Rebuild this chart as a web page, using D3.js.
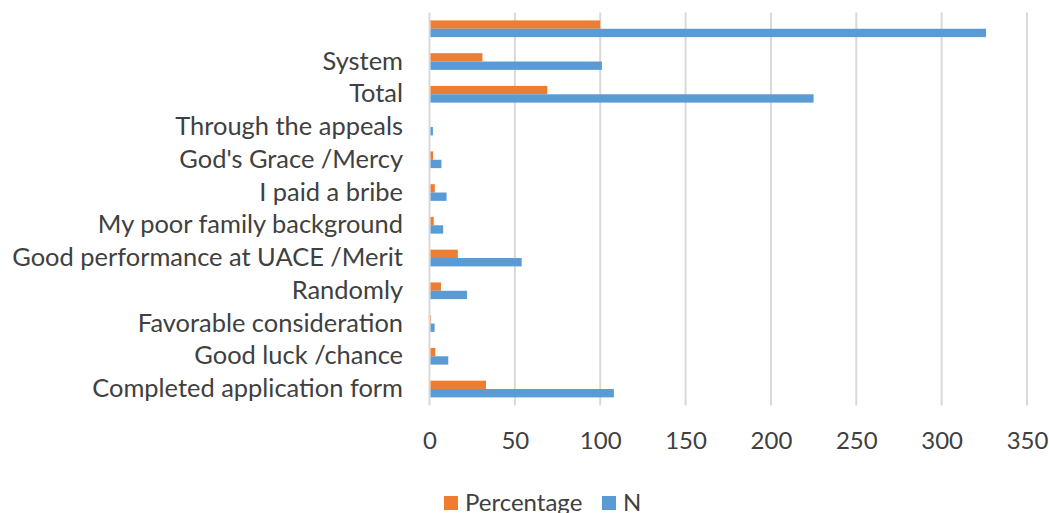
<!DOCTYPE html>
<html lang="en"><head>
<meta charset="UTF-8">
<script src="https://d3js.org/d3.v7.min.js"></script>
<title>Admission reasons</title>
<style>
  body { margin: 0; background: #fff; }
  text { font-family: Lato, "Open Sans", sans-serif; fill: #404040; }
</style>
</head>
<body>
<svg id="vis" width="1049" height="513"></svg>
<script>
// categories listed top to bottom
var categories = ["", "System", "Total", "Through the appeals", "God's Grace /Mercy",
  "I paid a bribe", "My poor family background", "Good performance at UACE /Merit",
  "Randomly", "Favorable consideration", "Good luck /chance", "Completed application form"];
var seriesNames = ["Percentage", "N"];
var percentage = [100, 31.0, 69.0, 0.6, 2.1, 3.1, 2.5, 16.6, 6.7, 0.9, 3.4, 33.1];
var nValues = [326, 101, 225, 2, 7, 10, 8, 54, 22, 3, 11, 108];
var xTicks = [0, 50, 100, 150, 200, 250, 300, 350];
var colors = ["#ED7D31", "#5B9BD5"];

var svg = d3.select("#vis");
var plotLeft = 429.5, plotRight = 1027, plotTop = 12.4, plotBottom = 405.4;

var x = d3.scaleLinear().domain([0, 350]).range([plotLeft, plotRight]);
var y = d3.scaleBand().domain(categories).range([plotTop, plotBottom])
  .paddingInner(0.49).paddingOuter(0.245);
var ySub = d3.scaleBand().domain(seriesNames).range([0, y.bandwidth()]);

// gridlines
svg.append("g").selectAll("line").data(xTicks).join("line")
  .attr("x1", function(d){ return x(d); }).attr("x2", function(d){ return x(d); })
  .attr("y1", plotTop).attr("y2", plotBottom)
  .attr("stroke", "#d9d9d9").attr("stroke-width", 2);

// bars
var rows = categories.map(function(c, i){ return {cat: c, vals: [percentage[i], nValues[i]]}; });
var gBars = svg.append("g");
rows.forEach(function(r){
  r.vals.forEach(function(v, j){
    gBars.append("rect")
      .attr("x", x(0) + 1)
      .attr("y", y(r.cat) + ySub(seriesNames[j]))
      .attr("width", Math.max(0, x(v) - x(0) - 1))
      .attr("height", ySub.bandwidth())
      .attr("fill", colors[j]);
  });
});

// x axis labels
var xAxis = d3.axisBottom(x).tickValues(xTicks).tickSize(0).tickPadding(0);
var gx = svg.append("g").attr("transform", "translate(0," + 441 + ")").call(xAxis);
gx.select(".domain").remove();
gx.selectAll("text").attr("font-size", 24).attr("dy", "0.35em")
  .style("font-family", "Lato, 'Open Sans', sans-serif").attr("fill", "#404040");

// category labels
var yAxis = d3.axisLeft(y).tickSize(0).tickPadding(0);
var gy = svg.append("g").attr("transform", "translate(403,0)").call(yAxis);
gy.select(".domain").remove();
gy.selectAll("text").attr("font-size", 23).attr("fill", "#404040")
  .style("font-family", "Lato, 'Open Sans', sans-serif");

// fit the longest label to the width seen in the chart
var longest = gy.selectAll("text").filter(function(d){ return d == "Good performance at UACE /Merit"; }).node();
var w = longest.getComputedTextLength();
var fs = 23 * 391 / w;
gy.selectAll("text").attr("font-size", fs);

// legend
var legend = svg.append("g");
var legendX = [444, 602];
seriesNames.forEach(function(s, i){
  legend.append("rect").attr("x", legendX[i]).attr("y", 496).attr("width", 14).attr("height", 14)
    .attr("fill", colors[i]);
  legend.append("text").attr("x", legendX[i] + 21).attr("y", 503).attr("dy", "0.35em")
    .attr("font-size", 24).text(s);
});
</script>
</body></html>
